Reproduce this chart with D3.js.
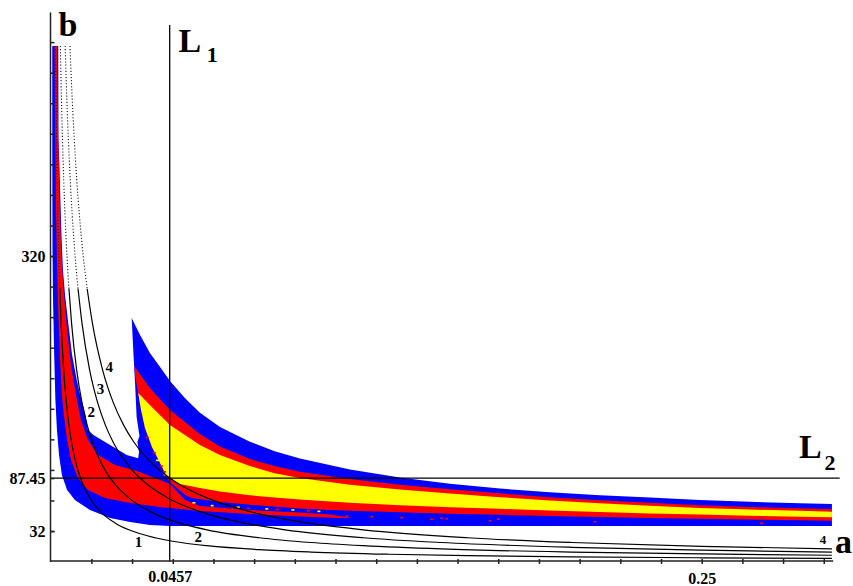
<!DOCTYPE html>
<html><head><meta charset="utf-8">
<script src="https://cdn.jsdelivr.net/npm/d3@7"></script>
<style>body{margin:0;background:#fff}svg{display:block}</style>
</head><body>
<svg id="chart" width="853" height="586"></svg>
<script>
// ---------- data (a, b) ----------
const xMinorTicks = [0.015625,0.03125,0.046875,0.0625,0.078125,0.09375,0.109375,0.125,0.140625,0.15625,0.171875,0.1875,0.203125,0.21875,0.234375,0.25,0.265625,0.28125,0.296875];
const xTickLabels = [0.0457, 0.25];
const yMinorTicks = [32,64,96,128,160,192,224,256,288,320,352,384,416,448,480,512,544];
const yTickLabels = [32, 87.45, 320];
const L1a = 0.0457;
const L2b = 87.45;

// outer (blue) region
const blueOuter = [[0.0006,540],[0.0006,431],[0.0007,326.3],[0.0009,273.9],[0.0013,221.6],[0.0018,169.2],[0.0024,137.8],[0.0032,111.6],[0.0043,90.7],[0.0063,75.0],[0.0093,64.5],[0.0151,54.0],[0.0228,45.7],[0.0305,41.5],[0.0381,38.3],[0.0458,37.3],[0.3,37.3],
 [0.3,60.3],[0.2877,61],[0.2685,62.6],[0.2493,64.6],[0.2301,67],[0.2109,69.5],[0.1917,72.7],[0.1725,76.5],[0.1533,81.5],[0.1341,88],[0.1149,96.5],[0.0957,108],[0.0860,115.5],[0.0765,125.5],[0.0650,141],[0.0573,156],[0.0516,171],[0.0458,189],[0.0420,203.8],[0.0381,218.4],[0.0343,237.3],[0.0311,255.1],
 [0.0317,221.6],[0.0324,187.0],[0.0330,151.4],[0.0341,131.5],[0.0333,125.2],[0.0339,114.8],[0.0336,108.2],
 [0.0292,111.6],[0.0228,122.1],[0.0164,132.6],[0.0143,137.8],
 [0.0132,155.6],[0.0113,174.4],[0.0100,190.2],[0.0082,216.3],[0.0066,253.0],[0.0055,279.2],[0.0047,305.3],[0.0042,336.7],[0.0038,372.3],[0.0034,410.1],[0.0030,441.5],[0.0029,540]];

// red band of the lower (left) tongue
const redLower = [[0.0015,540],[0.0017,462.4],[0.0020,378.6],[0.0024,315.8],[0.0030,253.0],[0.0036,211.1],[0.0043,174.4],[0.0053,148.3],[0.0063,127.3],[0.0078,106.4],[0.0105,87.5],[0.0143,75.0],[0.0209,66.6],[0.0305,61.4],[0.0420,57.2],[0.0573,53.0],[0.0765,49.8],[0.0957,47.2],[0.1111,45.7],[0.1157,45.7],
 [0.1073,49.3],[0.0957,51.4],[0.0765,54.0],[0.0573,58.2],[0.0516,64.5],[0.0458,81.3],[0.0401,87.5],[0.0331,94.9],[0.0247,101.2],[0.0182,111.6],[0.0143,127.3],[0.0116,148.3],[0.0097,174.4],[0.0078,205.9],[0.0063,242.5],[0.0049,285.5],[0.0040,326.3],[0.0034,378.6],[0.0030,430.9],[0.0026,483.4],[0.0024,540]];

// red band of the upper horn
const redUpper = [[0.0320,204.8],[0.0381,181.8],[0.0458,158.7],[0.0573,133.6],[0.0650,120.5],[0.0765,107.5],[0.0860,100],[0.0957,94],[0.1149,86.5],[0.1341,80.5],[0.1533,75.8],[0.1725,71.5],[0.1917,67.5],[0.2109,64.3],[0.2301,61.5],[0.2493,59],[0.2685,57.2],[0.2877,55.8],[0.3,54.8],
 [0.3,42.8],[0.2877,43.3],[0.2685,44],[0.2493,44.8],[0.2301,45.7],[0.2109,46.7],[0.1917,47.8],[0.1725,49],[0.1533,50.2],[0.1341,51.6],[0.1149,53.2],[0.0957,55],[0.0765,57.2],[0.0650,59.5],[0.0573,63],[0.0516,69.7],[0.0458,83.4],
 [0.0447,88.6],[0.0420,103.2],[0.0389,120.0],[0.0362,139.9],[0.0347,158.7],[0.0336,176.5],[0.0327,190.2]];

// yellow core
const yellowCore = [[0.0336,176.5],[0.0381,164],[0.0458,143],[0.0573,122],[0.0650,111.5],[0.0765,100],[0.0860,92.5],[0.0957,87.5],[0.1149,80.5],[0.1341,75.5],[0.1533,71.3],[0.1725,67.5],[0.1917,64],[0.2109,61],[0.2301,58.5],[0.2493,56.2],[0.2685,54.5],[0.2877,53.2],[0.3,52.3],
 [0.3,46.4],[0.2877,47],[0.2685,48],[0.2493,49.2],[0.2301,50.5],[0.2109,52],[0.1917,53.5],[0.1725,55.3],[0.1533,57],[0.1341,59],[0.1149,61.5],[0.0957,65],[0.0860,67],[0.0765,69.5],[0.0650,73.5],[0.0573,77],[0.0496,81.3],[0.0447,88.6],
 [0.0420,103.2],[0.0389,120.0],[0.0362,139.9],[0.0347,158.7]];

// thin blue strip between the two red bands
const blueStrip = [[0.0516,67.6],[0.0650,62.4],[0.0804,58.7],[0.0957,55.6],[0.1130,53.0],[0.1111,49.8],[0.0957,51.9],[0.0804,54.0],[0.0650,57.2],[0.0535,63.5]];

// small scattered specks inside the bottom blue strip and along the horn edge
const specksRed = [[0.1111,46.4],[0.1137,47.7],[0.1233,47.0],[0.1348,46.0],[0.1463,44.3],[0.1502,45.3],[0.1521,44.9],[0.1687,42.8],[0.1719,44.3],[0.2090,41.8],[0.2730,40.1],[0.0700,56.5],[0.0760,55.8],[0.0870,54.6],[0.0990,53.3],[0.0372,130],[0.0398,114],[0.0425,100],[0.0437,94]];
const specksYellow = [[0.0620,58.6],[0.0720,56.9],[0.0830,55.2],[0.0930,54.1],[0.1030,52.6],[0.0550,61.6],[0.0410,106],[0.0440,91]];

// curves 1..4
const curve1 = [[0.00185,540],[0.002,500],[0.0025,400],[0.003,333.3],[0.0035,285.7],[0.004,250],[0.005,200],[0.006,166.7],[0.007,142.9],[0.008,125],[0.01,100],[0.012,83.3],[0.015,66.7],[0.02,50],[0.025,40],[0.03,33.3],[0.04,25],[0.05,20],[0.06,16.7],[0.08,12.5],[0.1,10],[0.13,7.7],[0.16,6.25],[0.2,5],[0.25,4],[0.3,3.33]];
const curve2 = [[0.0037,540],[0.004,500],[0.005,400],[0.006,333.3],[0.007,285.7],[0.008,250],[0.01,200],[0.012,166.7],[0.014,142.9],[0.016,125],[0.02,100],[0.025,80],[0.03,66.7],[0.04,50],[0.05,40],[0.06,33.3],[0.08,25],[0.1,20],[0.12,16.7],[0.15,13.3],[0.2,10],[0.25,8],[0.3,6.67]];
const curve3 = [[0.00556,540],[0.006,500],[0.0075,400],[0.009,333.3],[0.0105,285.7],[0.012,250],[0.015,200],[0.018,166.7],[0.021,142.9],[0.024,125],[0.03,100],[0.036,83.3],[0.045,66.7],[0.06,50],[0.075,40],[0.09,33.3],[0.12,25],[0.15,20],[0.2,15],[0.25,12],[0.3,10]];
const curve4 = [[0.0074,540],[0.008,500],[0.01,400],[0.012,333.3],[0.014,285.7],[0.016,250],[0.02,200],[0.024,166.7],[0.028,142.9],[0.032,125],[0.04,100],[0.0457,87.5],[0.05,80],[0.06,66.7],[0.08,50],[0.1,40],[0.12,33.3],[0.16,25],[0.2,20],[0.25,16],[0.3,13.33]];
const curves = [curve1, curve2, curve3, curve4];

const curveLabels = [
  {t:'1', a:0.0337, b:15.6, s:15},
  {t:'2', a:0.0567, b:20.8, s:15},
  {t:'2', a:0.0156, b:151.7, s:15},
  {t:'3', a:0.0191, b:175.5, s:15},
  {t:'4', a:0.0225, b:198.8, s:15},
  {t:'4', a:0.2966, b:18.4, s:13}
];

// ---------- drawing ----------
const svg = d3.select('#chart');
const x = d3.scaleLinear().domain([0, 0.3]).range([50.7, 831.9]);
const y = d3.scaleLinear().domain([0, 575]).range([561.6, 12.5]);
const serif = '"Liberation Serif","Times New Roman",serif';

const poly = d3.line().x(d => x(d[0])).y(d => y(d[1])).curve(d3.curveLinearClosed);
svg.append('path').attr('d', poly(blueOuter)).attr('fill', '#0000ff');
svg.append('path').attr('d', poly(redLower)).attr('fill', '#ff0000');
svg.append('path').attr('d', poly(redUpper)).attr('fill', '#ff0000');
svg.append('path').attr('d', poly(yellowCore)).attr('fill', '#ffff00');
svg.append('path').attr('d', poly(blueStrip)).attr('fill', '#0000ff');

svg.selectAll('rect.sr').data(specksRed).enter().append('rect').attr('class', 'sr')
  .attr('x', d => x(d[0]) - 1.5).attr('y', d => y(d[1]) - 0.8).attr('width', 3).attr('height', 1.6)
  .attr('fill', '#ff0000');
svg.selectAll('rect.sy').data(specksYellow).enter().append('rect').attr('class', 'sy')
  .attr('x', d => x(d[0]) - 1.5).attr('y', d => y(d[1]) - 0.8).attr('width', 3).attr('height', 1.6)
  .attr('fill', '#ffff00');

// curves
const cl = d3.line().x(d => x(d[0])).y(d => y(d[1])).curve(d3.curveMonotoneX);
const cut = 285.7;
curves.forEach(c => {
  const up = c.filter(p => p[1] >= cut);
  const lo = c.filter(p => p[1] <= cut);
  svg.append('path').attr('d', cl(up)).attr('fill', 'none')
     .attr('stroke', '#111').attr('stroke-width', 1.1).attr('stroke-dasharray', '1.1,2');
  svg.append('path').attr('d', cl(lo)).attr('fill', 'none')
     .attr('stroke', '#000').attr('stroke-width', 1.2);
});

// L1 and L2
svg.append('line').attr('x1', x(L1a)).attr('x2', x(L1a)).attr('y1', y(0)).attr('y2', y(562))
   .attr('stroke', '#000').attr('stroke-width', 1.3);
svg.append('line').attr('x1', x(0)).attr('x2', x(0.303)).attr('y1', y(L2b)).attr('y2', y(L2b))
   .attr('stroke', '#000').attr('stroke-width', 1.3);

// axes
const axisColor = '#222';
const gx = svg.append('g').attr('transform', 'translate(0,561)')
  .call(d3.axisBottom(x).tickValues(xMinorTicks).tickSize(3).tickSizeOuter(0).tickFormat(''));
gx.selectAll('.tick line').attr('y1', -2).attr('y2', 3);
gx.select('.domain').attr('d', `M${x(0)-0.5},0H${x(0.3005)}`);
const gxl = svg.append('g').attr('transform', 'translate(0,561)')
  .call(d3.axisBottom(x).tickValues(xTickLabels).tickSize(0).tickPadding(9.5).tickFormat(d => String(d)));
gxl.select('.domain').remove();
gxl.selectAll('.tick text').filter(d => d === 0.25).attr('y', 11.3);

const gy = svg.append('g').attr('transform', 'translate(50.5,0)')
  .call(d3.axisLeft(y).tickValues(yMinorTicks).tickSize(-4).tickSizeOuter(0).tickFormat(''));
gy.select('.domain').attr('d', `M0,${y(0)+0.5}V${y(575)}`);
const gyl = svg.append('g').attr('transform', 'translate(50.5,0)')
  .call(d3.axisLeft(y).tickValues(yTickLabels).tickSize(-4).tickPadding(5).tickFormat(d => String(d)));
gyl.select('.domain').remove();

[gx, gy, gxl, gyl].forEach(g => {
  g.selectAll('.domain, .tick line').attr('stroke', axisColor).attr('stroke-width', 1.5);
  g.selectAll('.tick text').attr('font-family', serif).attr('font-weight', 'bold')
    .attr('font-size', 16).attr('fill', '#000');
});

// curve labels
svg.selectAll('text.cl').data(curveLabels).enter().append('text').attr('class', 'cl')
  .attr('x', d => x(d.a)).attr('y', d => y(d.b)).attr('text-anchor', 'middle')
  .attr('font-family', serif).attr('font-weight', 'bold').attr('font-size', d => d.s)
  .text(d => d.t);

// axis names and line names
function label(txt, px, py, size) {
  svg.append('text').attr('x', px).attr('y', py).attr('font-family', serif)
     .attr('font-weight', 'bold').attr('font-size', size).attr('fill', '#000').text(txt);
}
label('b', 58.5, 36, 34);
label('L', x(L1a) + 8.7, 51.7, 34);
label('1', x(L1a) + 37, 61.7, 22);
label('L', 799, y(L2b) - 20, 34);
label('2', 824.5, y(L2b) - 7.6, 22);
label('a', 835, 553, 34);
</script>
</body></html>
